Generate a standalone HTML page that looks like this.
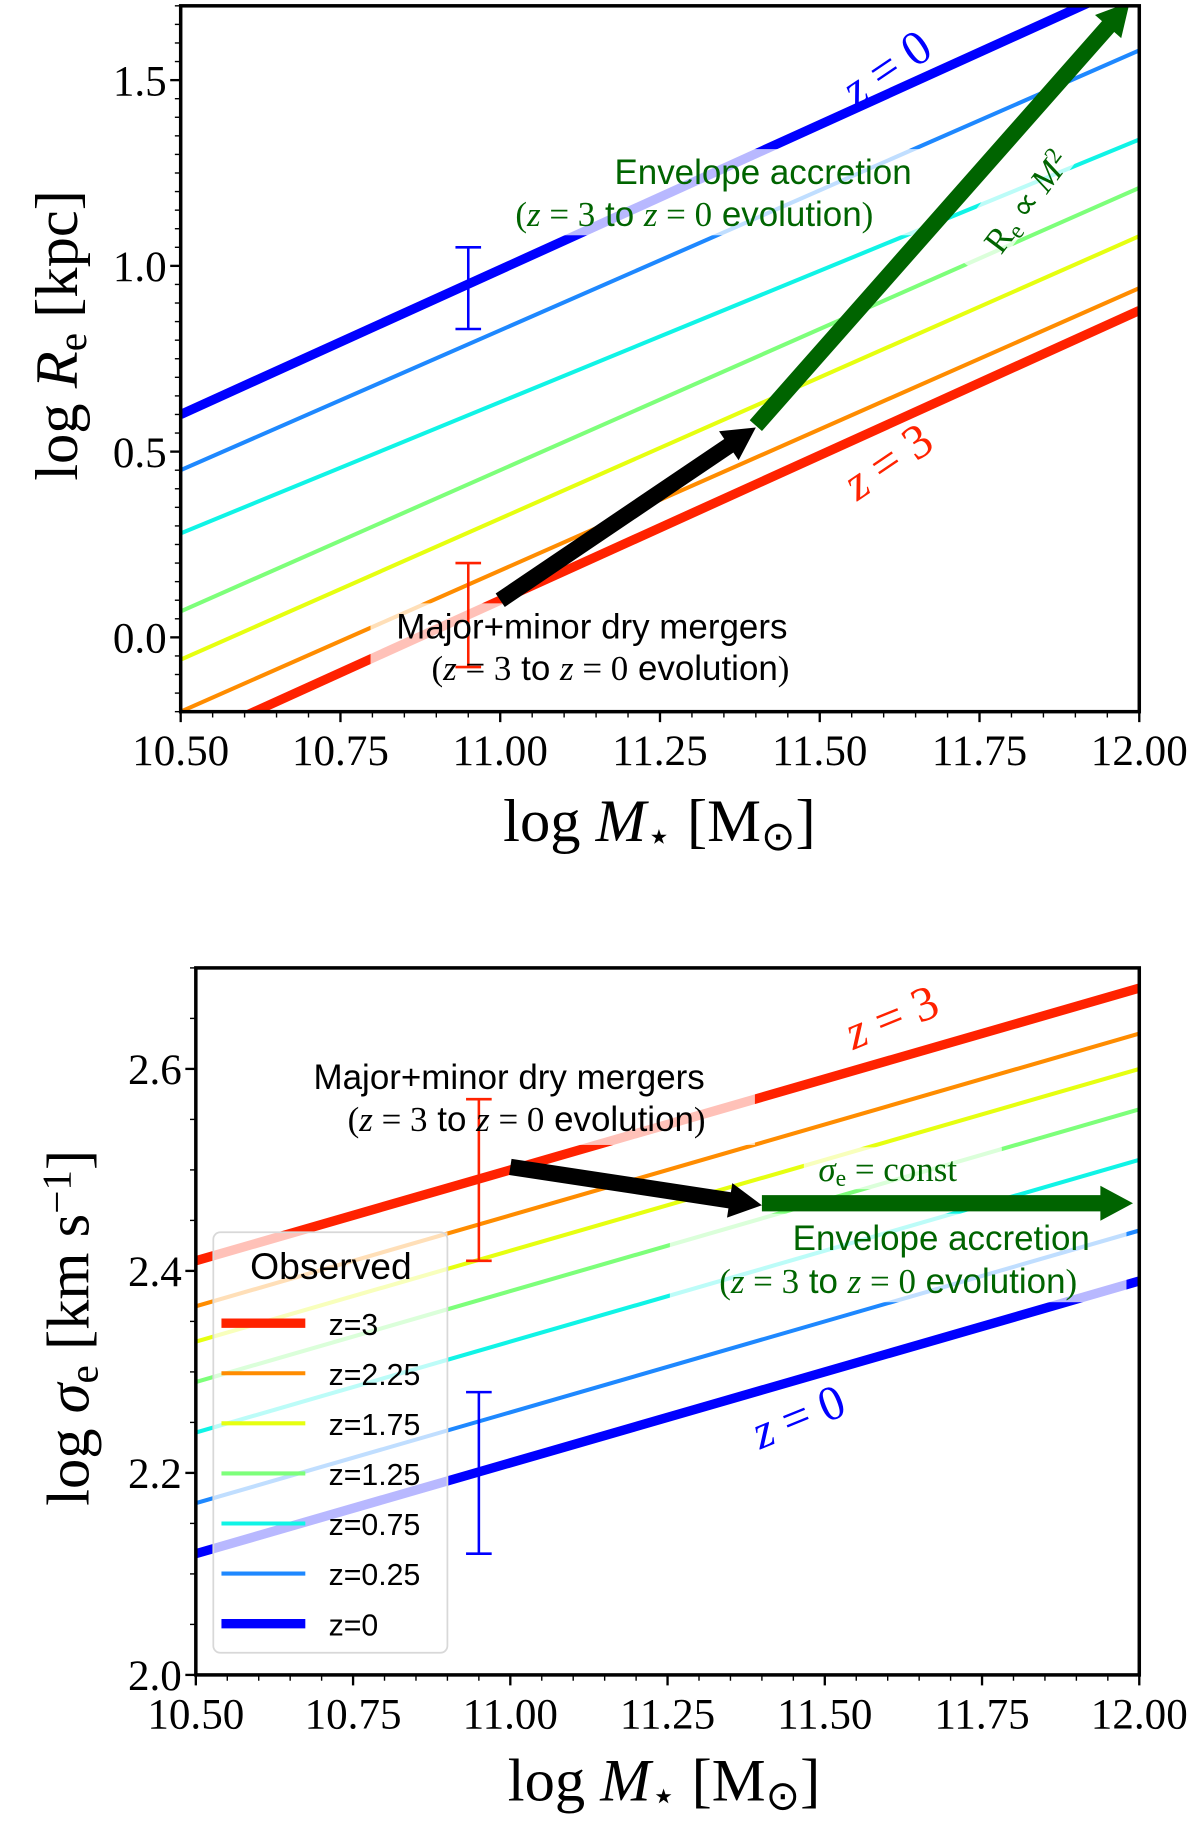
<!DOCTYPE html>
<html><head><meta charset="utf-8"><style>
html,body{margin:0;padding:0;background:#fff}
svg{display:block}
.tk{font-family:"Liberation Serif",serif;font-size:37px;fill:#000}
</style></head><body>
<svg id="fig" width="1200" height="1824" viewBox="0 0 1030 1566" xmlns="http://www.w3.org/2000/svg"></svg>
<script>
const labels = ["z=3","z=2.25","z=1.75","z=1.25","z=0.75","z=0.25","z=0"];
const colors = ["#ff2200","#ff8c00","#e6ff10","#7dff7a","#10f4e6","#1e88ff","#0000ff"];
const widths = [8,3.5,3.5,3.5,3.5,3.5,8];
const xEnds = [10.5,12.0];
const reStart = [-0.29,-0.20,-0.06,0.07,0.28,0.45,0.60];
const reEnd = [0.88,0.94,1.08,1.21,1.34,1.58,1.77];
const sgStart = [2.41,2.365,2.33,2.29,2.24,2.17,2.12];
const sgEnd = [2.68,2.635,2.60,2.56,2.51,2.44,2.39];
const xTicks = [10.5,10.75,11.0,11.25,11.5,11.75,12.0];
const xTickLabels = ["10.50","10.75","11.00","11.25","11.50","11.75","12.00"];
const reTicks = [0.0,0.5,1.0,1.5];
const reTickLabels = ["0.0","0.5","1.0","1.5"];
const sgTicks = [2.0,2.2,2.4,2.6];
const sgTickLabels = ["2.0","2.2","2.4","2.6"];
const reErr = [[10.95,0.83,1.05,"#0000ff"],[10.95,-0.08,0.20,"#ff2200"]];
const sgErr = [[10.95,2.41,2.57,"#ff2200"],[10.95,2.12,2.28,"#0000ff"]];

const NS="http://www.w3.org/2000/svg";
const svg=document.getElementById('fig');
function mk(tag,attrs,parent){const e=document.createElementNS(NS,tag);for(const k in attrs)e.setAttribute(k,attrs[k]);(parent||svg).appendChild(e);return e;}
function txt(s,attrs,parent){const e=mk('text',attrs,parent);e.textContent=s;return e;}

function panel(P){
  const g=mk('g',{});
  
  
  const X=v=>P.L+(v-10.5)/1.5*(P.R-P.L);
  const Y=v=>P.B-(v-P.y0)/(P.y1-P.y0)*(P.B-P.T);
  const cp=mk('clipPath',{id:P.name+'-clip'},g);
  mk('rect',{x:P.L,y:P.T,width:P.R-P.L,height:P.B-P.T},cp);
  const pg=mk('g',{'clip-path':'url(#'+P.name+'-clip)'},g);
  for(let i=0;i<labels.length;i++){
    const l=mk('line',{x1:X(xEnds[0]),y1:Y(P.s[i]),x2:X(xEnds[1]),y2:Y(P.e[i]),stroke:colors[i],'stroke-width':widths[i]},pg);
    
    
  }
  P.boxes.forEach(b=>{const r=mk('rect',{x:b[0],y:b[1],width:b[2],height:b[3],fill:'#fff','fill-opacity':0.72,transform:b[4]||''},pg);
    });
  P.err.forEach(e=>{
    const eg=mk('g',{stroke:e[3],'stroke-width':2.2},pg);
    
    mk('line',{x1:X(e[0]),x2:X(e[0]),y1:Y(e[1]),y2:Y(e[2])},eg);
    mk('line',{x1:X(e[0])-11,x2:X(e[0])+11,y1:Y(e[1]),y2:Y(e[1])},eg);
    mk('line',{x1:X(e[0])-11,x2:X(e[0])+11,y1:Y(e[2]),y2:Y(e[2])},eg);
  });
  P.arrows.forEach(a=>{
    const x1=X(a[0]),y1=Y(a[1]),x2=X(a[2]),y2=Y(a[3]);
    const dx=x2-x1,dy=y2-y1,len=Math.hypot(dx,dy),ux=dx/len,uy=dy/len;
    const hl=28,hw=15,w=7;
    const bx=x2-ux*hl,by=y2-uy*hl,px=-uy,py=ux;
    const pts=[[x1+px*w,y1+py*w],[bx+px*w,by+py*w],[bx+px*hw,by+py*hw],[x2,y2],[bx-px*hw,by-py*hw],[bx-px*w,by-py*w],[x1-px*w,y1-py*w]];
    const p=mk('polygon',{points:pts.map(q=>q.join(',')).join(' '),fill:a[4]},pg);
    
  });
  const fr=mk('rect',{x:P.L,y:P.T,width:P.R-P.L,height:P.B-P.T,fill:'none',stroke:'#000','stroke-width':3},g);
  
  for(let v=10.5;v<=12.0001;v+=0.05){const major=Math.abs(((v-10.5)/0.25)-Math.round((v-10.5)/0.25))<1e-6;
    mk('line',{x1:X(v),x2:X(v),y1:P.B,y2:P.B+(major?9:5),stroke:'#000','stroke-width':major?2:1.2},g);}
  xTicks.forEach((v,i)=>{const t=txt(xTickLabels[i],{x:X(v),y:P.B+46,'text-anchor':'middle',class:'tk'},g);
    });
  for(let v=P.y0;v<=P.y1+1e-6;v+=P.minor){mk('line',{x1:P.L-5,x2:P.L,y1:Y(v),y2:Y(v),stroke:'#000','stroke-width':1.2},g);}
  P.ticks.forEach((v,i)=>{mk('line',{x1:P.L-9,x2:P.L,y1:Y(v),y2:Y(v),stroke:'#000','stroke-width':2},g);
    const t=txt(P.tl[i],{x:P.L-12,y:Y(v)+13,'text-anchor':'end',class:'tk'},g);
    });
  return {g,X,Y};
}

panel({name:'size-mass-panel',L:155,R:978,T:5,B:611,y0:-0.2,y1:1.7,minor:0.05,s:reStart,e:reEnd,ticks:reTicks,tl:reTickLabels,err:reErr,
  boxes:[[400,128,392,74],[318,518,400,78],[0,0,150,44,'translate(812,214) rotate(-53)']],
  arrows:[[11.0,0.10,11.4,0.565,'#000','mergers-arrow'],[11.4,0.57,11.985,1.71,'#006400','accretion-arrow']]});
panel({name:'dispersion-mass-panel',L:168,R:978,T:831,B:1438,y0:2.0,y1:2.7,minor:0.05,s:sgStart,e:sgEnd,ticks:sgTicks,tl:sgTickLabels,err:sgErr,
  boxes:[[246,905,402,78],[575,1042,392,76],[690,985,170,36],[183,1058,201,361]],
  arrows:[[11.0,2.503,11.4,2.465,'#000','mergers-arrow'],[11.4,2.467,11.99,2.467,'#006400','accretion-arrow']]});

// parts: [text, kind] kind: 's' sans, 'r' roman serif, 'm' math italic, 'sub', 'sup'
function html(parts,x,y,fill,size,anchor,name,rot){
  const t=mk('text',{x:x,y:y,fill:fill,'font-size':size,'text-anchor':anchor||'middle',transform:rot||''});
  
  parts.forEach(p=>{const k=p[1];
    const a={'font-family':k==='s'?'"Liberation Sans",sans-serif':'"Liberation Serif",serif','font-style':k==='m'?'italic':'normal'};
    if(k==='sub'){a['font-size']=size*0.68;a['baseline-shift']='-22%';}
    if(k==='sup'){a['font-size']=size*0.68;a['baseline-shift']='45%';}
    const s=mk('tspan',a,t);s.textContent=p[0];});
  return t;}
const evo=[["(",'r'],["z",'m'],[" = 3",'r'],[" to ",'s'],["z",'m'],[" = 0",'r'],[" evolution",'s'],[")",'r']];

html([["Envelope accretion",'s']],655,158,'#006400',30,'middle','envelope-label');
html(evo,596,194,'#006400',30,'middle','envelope-evolution-label');
html([["Major+minor dry mergers",'s']],508,548,'#000',30,'middle','mergers-label');
html(evo,524,584,'#000',30,'middle','mergers-evolution-label');
html([["z",'m'],[" = 0",'r']],762,72,'#0000ff',42,'middle','z0-label','rotate(-34 762 60)');
html([["z",'m'],[" = 3",'r']],762,410,'#ff2200',42,'middle','z3-label','rotate(-34 762 396)');
html([["R",'r'],["e",'sub'],[" ∝ ",'r'],["M",'m'],["2",'sup']],880,184,'#006400',30,'middle','scaling-label','rotate(-53 880 172)');
html([["log  ",'r'],["R",'m'],["e",'sub'],["  [kpc]",'r']],66,288,'#000',52,'middle','y-axis-title','rotate(-90 66 288)');
html([["log  ",'r'],["M",'m'],["⋆",'sub'],["  [M",'r'],["⊙",'sub'],["]",'r']],566,722,'#000',52,'middle','x-axis-title-1');

html([["Major+minor dry mergers",'s']],437,935,'#000',30,'middle','mergers-label-2');
html(evo,452,971,'#000',30,'middle','mergers-evolution-label-2');
html([["σ",'m'],["e",'sub'],[" = const",'r']],762,1014,'#006400',30,'middle','sigma-const-label');
html([["Envelope accretion",'s']],808,1073,'#006400',30,'middle','envelope-label-2');
html(evo,771,1110,'#006400',30,'middle','envelope-evolution-label-2');
html([["z",'m'],[" = 3",'r']],766,887,'#ff2200',42,'middle','z3-label-2','rotate(-22 766 875)');
html([["z",'m'],[" = 0",'r']],686,1230,'#0000ff',42,'middle','z0-label-2','rotate(-22 686 1218)');
html([["log  ",'r'],["σ",'m'],["e",'sub'],["  [km s",'r'],["−1",'sup'],["]",'r']],76,1140,'#000',52,'middle','y-axis-title-sigma','rotate(-90 76 1140)');
html([["log  ",'r'],["M",'m'],["⋆",'sub'],["  [M",'r'],["⊙",'sub'],["]",'r']],570,1546,'#000',52,'middle','x-axis-title-2');

const lg=mk('g',{});


mk('rect',{x:183,y:1058,width:201,height:361,rx:6,fill:'none',stroke:'#d8d8d8','stroke-width':1.5},lg);
txt('Observed',{x:284,y:1098,'text-anchor':'middle','font-family':'"Liberation Sans",sans-serif','font-size':32,fill:'#000'},lg);
labels.forEach((s,i)=>{const y=1136+i*43;
  const e=mk('g',{},lg);
  
  
  mk('line',{x1:190,x2:262,y1:y,y2:y,stroke:colors[i],'stroke-width':widths[i]},e);
  txt(s,{x:282,y:y+10,'font-family':'"Liberation Sans",sans-serif','font-size':26,fill:'#000'},e);});
</script>
</body></html>
